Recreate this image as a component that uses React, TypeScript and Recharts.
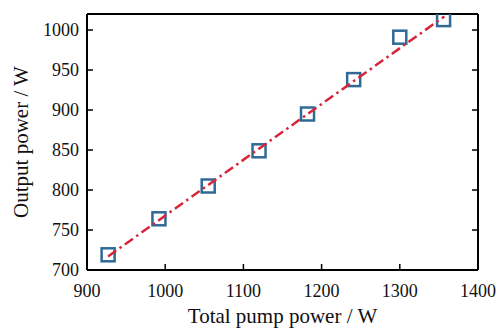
import React from 'react';
import { ScatterChart, Scatter, XAxis, YAxis } from 'recharts';

const pumpPower = [927, 992, 1055, 1120, 1182, 1241, 1300, 1356];
const outputPower = [719, 764, 805, 849, 895, 938, 991, 1013];
const fitPump = [927, 1357];
const fitOutput = [717, 1017];
const xTicks = [900, 1000, 1100, 1200, 1300, 1400];
const yTicks = [700, 750, 800, 850, 900, 950, 1000];

const points = pumpPower.map((x, i) => ({ x, y: outputPower[i] }));
const fit = fitPump.map((x, i) => ({ x, y: fitOutput[i] }));

const FONT = '"Liberation Serif", "Times New Roman", serif';

const Square = (props: any) => {
  const { cx, cy } = props;
  if (cx == null || cy == null) return <g />;
  return (
    <rect x={cx - 6.5} y={cy - 6.5} width={13} height={13} fill="none" stroke="#2f6a96" strokeWidth={2.5} />
  );
};

const NoShape = () => <g />;

export default function App() {
  return (
    <div style={{ position: 'absolute', left: 0, top: 0 }}>
      <ScatterChart width={502} height={329} margin={{ top: 13, right: 23, bottom: 6, left: 10 }}>
        <XAxis
          xAxisId={0}
          type="number"
          dataKey="x"
          domain={[900, 1400]}
          ticks={xTicks}
          allowDataOverflow
          height={53}
          tickSize={-6}
          tickMargin={20}
          axisLine={{ stroke: '#000', strokeWidth: 2 }}
          tickLine={{ stroke: '#000', strokeWidth: 1.5 }}
          tick={{ fill: '#111', fontSize: 18, fontFamily: FONT }}
          label={{ value: 'Total pump power / W', position: 'insideBottom', offset: 0, fill: '#111', fontSize: 21, fontFamily: FONT }}
        />
        <XAxis
          xAxisId="top"
          orientation="top"
          type="number"
          domain={[900, 1400]}
          ticks={xTicks}
          allowDataOverflow
          height={1}
          tickSize={-6}
          tickFormatter={() => ''}
          axisLine={{ stroke: '#000', strokeWidth: 2 }}
          tickLine={{ stroke: '#000', strokeWidth: 1.5 }}
        />
        <YAxis
          yAxisId={0}
          type="number"
          dataKey="y"
          domain={[700, 1020]}
          ticks={yTicks}
          allowDataOverflow
          width={77}
          tickSize={-6}
          tickMargin={14}
          axisLine={{ stroke: '#000', strokeWidth: 2 }}
          tickLine={{ stroke: '#000', strokeWidth: 1.5 }}
          tick={{ fill: '#111', fontSize: 18, fontFamily: FONT }}
          label={{ value: 'Output power / W', angle: -90, position: 'insideLeft', offset: 11, fill: '#111', fontSize: 21, fontFamily: FONT, style: { textAnchor: 'middle' } }}
        />
        <YAxis
          yAxisId="right"
          orientation="right"
          type="number"
          domain={[700, 1020]}
          ticks={yTicks}
          allowDataOverflow
          width={1}
          tickSize={-6}
          tickFormatter={() => ''}
          axisLine={{ stroke: '#000', strokeWidth: 2 }}
          tickLine={{ stroke: '#000', strokeWidth: 1.5 }}
        />
        <Scatter data={points} shape={Square} isAnimationActive={false} />
        <Scatter
          data={fit}
          shape={NoShape}
          line={{ stroke: '#d7263a', strokeWidth: 2.5, strokeDasharray: '10 4 2.5 4' }}
          isAnimationActive={false}
        />
      </ScatterChart>
    </div>
  );
}
